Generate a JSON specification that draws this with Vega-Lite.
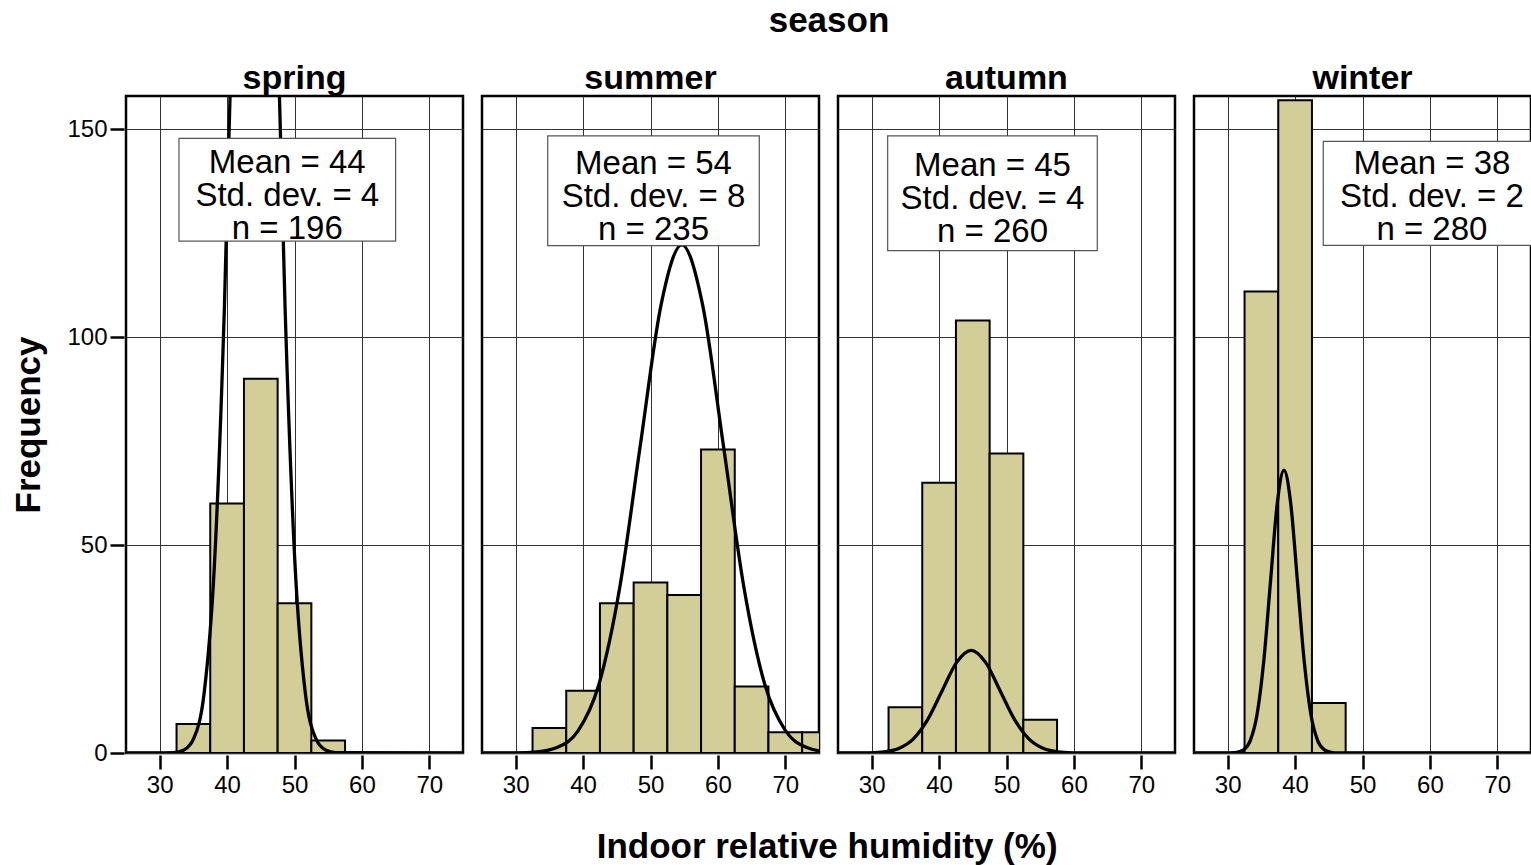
{
  "$schema": "https://vega.github.io/schema/vega-lite/v6.json",
  "padding": {"left": 11, "top": 4, "right": 0, "bottom": 0},
  "background": "white",
  "title": {"text": "Indoor relative humidity (%)", "orient": "bottom", "anchor": "middle", "fontSize": 35, "fontWeight": "bold", "font": "Liberation Sans", "color": "black", "offset": 33, "dx": 55},
  "data": {"values": [
    {"season": "spring", "kind": "bar", "lo": 32.5, "hi": 37.5, "count": 7},
    {"season": "spring", "kind": "bar", "lo": 37.5, "hi": 42.5, "count": 60},
    {"season": "spring", "kind": "bar", "lo": 42.5, "hi": 47.5, "count": 90},
    {"season": "spring", "kind": "bar", "lo": 47.5, "hi": 52.5, "count": 36},
    {"season": "spring", "kind": "bar", "lo": 52.5, "hi": 57.5, "count": 3},
    {"season": "summer", "kind": "bar", "lo": 32.5, "hi": 37.5, "count": 6},
    {"season": "summer", "kind": "bar", "lo": 37.5, "hi": 42.5, "count": 15},
    {"season": "summer", "kind": "bar", "lo": 42.5, "hi": 47.5, "count": 36},
    {"season": "summer", "kind": "bar", "lo": 47.5, "hi": 52.5, "count": 41},
    {"season": "summer", "kind": "bar", "lo": 52.5, "hi": 57.5, "count": 38},
    {"season": "summer", "kind": "bar", "lo": 57.5, "hi": 62.5, "count": 73},
    {"season": "summer", "kind": "bar", "lo": 62.5, "hi": 67.5, "count": 16},
    {"season": "summer", "kind": "bar", "lo": 67.5, "hi": 72.5, "count": 5},
    {"season": "summer", "kind": "bar", "lo": 72.5, "hi": 77.5, "count": 5},
    {"season": "autumn", "kind": "bar", "lo": 32.5, "hi": 37.5, "count": 11},
    {"season": "autumn", "kind": "bar", "lo": 37.5, "hi": 42.5, "count": 65},
    {"season": "autumn", "kind": "bar", "lo": 42.5, "hi": 47.5, "count": 104},
    {"season": "autumn", "kind": "bar", "lo": 47.5, "hi": 52.5, "count": 72},
    {"season": "autumn", "kind": "bar", "lo": 52.5, "hi": 57.5, "count": 8},
    {"season": "winter", "kind": "bar", "lo": 32.5, "hi": 37.5, "count": 111},
    {"season": "winter", "kind": "bar", "lo": 37.5, "hi": 42.5, "count": 157},
    {"season": "winter", "kind": "bar", "lo": 42.5, "hi": 47.5, "count": 12},

    {"season": "spring", "kind": "curve", "h": 25, "f": 0},
    {"season": "spring", "kind": "curve", "h": 32.1, "f": 0.11},
    {"season": "spring", "kind": "curve", "h": 33.6, "f": 0.72},
    {"season": "spring", "kind": "curve", "h": 35.1, "f": 3.67},
    {"season": "spring", "kind": "curve", "h": 36.6, "f": 14.5},
    {"season": "spring", "kind": "curve", "h": 38.1, "f": 44.65},
    {"season": "spring", "kind": "curve", "h": 39.6, "f": 107.2},
    {"season": "spring", "kind": "curve", "h": 41.1, "f": 200.1},
    {"season": "spring", "kind": "curve", "h": 42.6, "f": 291.2},
    {"season": "spring", "kind": "curve", "h": 44.1, "f": 330},
    {"season": "spring", "kind": "curve", "h": 45.6, "f": 291.2},
    {"season": "spring", "kind": "curve", "h": 47.1, "f": 200.1},
    {"season": "spring", "kind": "curve", "h": 48.6, "f": 107.2},
    {"season": "spring", "kind": "curve", "h": 50.1, "f": 44.65},
    {"season": "spring", "kind": "curve", "h": 51.6, "f": 14.5},
    {"season": "spring", "kind": "curve", "h": 53.1, "f": 3.67},
    {"season": "spring", "kind": "curve", "h": 54.6, "f": 0.72},
    {"season": "spring", "kind": "curve", "h": 56.1, "f": 0.11},
    {"season": "spring", "kind": "curve", "h": 75, "f": 0},

    {"season": "summer", "kind": "curve", "h": 25, "f": 0},
    {"season": "summer", "kind": "curve", "h": 30.05, "f": 0.041},
    {"season": "summer", "kind": "curve", "h": 33.125, "f": 0.267},
    {"season": "summer", "kind": "curve", "h": 36.2, "f": 1.358},
    {"season": "summer", "kind": "curve", "h": 39.275, "f": 5.37},
    {"season": "summer", "kind": "curve", "h": 42.35, "f": 16.53},
    {"season": "summer", "kind": "curve", "h": 45.425, "f": 39.68},
    {"season": "summer", "kind": "curve", "h": 48.5, "f": 74.11},
    {"season": "summer", "kind": "curve", "h": 51.575, "f": 107.84},
    {"season": "summer", "kind": "curve", "h": 54.65, "f": 122.2},
    {"season": "summer", "kind": "curve", "h": 57.725, "f": 107.84},
    {"season": "summer", "kind": "curve", "h": 60.8, "f": 74.11},
    {"season": "summer", "kind": "curve", "h": 63.875, "f": 39.68},
    {"season": "summer", "kind": "curve", "h": 66.95, "f": 16.53},
    {"season": "summer", "kind": "curve", "h": 70.025, "f": 5.37},
    {"season": "summer", "kind": "curve", "h": 73.1, "f": 1.358},
    {"season": "summer", "kind": "curve", "h": 76.175, "f": 0.267},
    {"season": "summer", "kind": "curve", "h": 79.25, "f": 0.041},

    {"season": "autumn", "kind": "curve", "h": 25, "f": 0},
    {"season": "autumn", "kind": "curve", "h": 27.55, "f": 0.008},
    {"season": "autumn", "kind": "curve", "h": 29.7, "f": 0.054},
    {"season": "autumn", "kind": "curve", "h": 31.85, "f": 0.274},
    {"season": "autumn", "kind": "curve", "h": 34.0, "f": 1.085},
    {"season": "autumn", "kind": "curve", "h": 36.15, "f": 3.34},
    {"season": "autumn", "kind": "curve", "h": 38.3, "f": 8.02},
    {"season": "autumn", "kind": "curve", "h": 40.45, "f": 14.98},
    {"season": "autumn", "kind": "curve", "h": 42.6, "f": 21.8},
    {"season": "autumn", "kind": "curve", "h": 44.75, "f": 24.7},
    {"season": "autumn", "kind": "curve", "h": 46.9, "f": 21.8},
    {"season": "autumn", "kind": "curve", "h": 49.05, "f": 14.98},
    {"season": "autumn", "kind": "curve", "h": 51.2, "f": 8.02},
    {"season": "autumn", "kind": "curve", "h": 53.35, "f": 3.34},
    {"season": "autumn", "kind": "curve", "h": 55.5, "f": 1.085},
    {"season": "autumn", "kind": "curve", "h": 57.65, "f": 0.274},
    {"season": "autumn", "kind": "curve", "h": 59.8, "f": 0.054},
    {"season": "autumn", "kind": "curve", "h": 61.95, "f": 0.008},
    {"season": "autumn", "kind": "curve", "h": 75, "f": 0},

    {"season": "winter", "kind": "curve", "h": 25, "f": 0},
    {"season": "winter", "kind": "curve", "h": 30.35, "f": 0.023},
    {"season": "winter", "kind": "curve", "h": 31.35, "f": 0.149},
    {"season": "winter", "kind": "curve", "h": 32.35, "f": 0.755},
    {"season": "winter", "kind": "curve", "h": 33.35, "f": 2.99},
    {"season": "winter", "kind": "curve", "h": 34.35, "f": 9.2},
    {"season": "winter", "kind": "curve", "h": 35.35, "f": 22.08},
    {"season": "winter", "kind": "curve", "h": 36.35, "f": 41.24},
    {"season": "winter", "kind": "curve", "h": 37.35, "f": 60.01},
    {"season": "winter", "kind": "curve", "h": 38.35, "f": 68},
    {"season": "winter", "kind": "curve", "h": 39.35, "f": 60.01},
    {"season": "winter", "kind": "curve", "h": 40.35, "f": 41.24},
    {"season": "winter", "kind": "curve", "h": 41.35, "f": 22.08},
    {"season": "winter", "kind": "curve", "h": 42.35, "f": 9.2},
    {"season": "winter", "kind": "curve", "h": 43.35, "f": 2.99},
    {"season": "winter", "kind": "curve", "h": 44.35, "f": 0.755},
    {"season": "winter", "kind": "curve", "h": 45.35, "f": 0.149},
    {"season": "winter", "kind": "curve", "h": 46.35, "f": 0.023},
    {"season": "winter", "kind": "curve", "h": 75, "f": 0},

    {"season": "spring", "kind": "box", "x1": 32.86, "x2": 65.0, "y1": 123.1, "y2": 147.8, "xm": 48.93, "ty": 139.6, "label": "Mean = 44\nStd. dev. = 4\nn = 196"},
    {"season": "summer", "kind": "box", "x1": 34.75, "x2": 66.14, "y1": 122.0, "y2": 148.4, "xm": 50.45, "ty": 139.2, "label": "Mean = 54\nStd. dev. = 8\nn = 235"},
    {"season": "autumn", "kind": "box", "x1": 32.37, "x2": 63.47, "y1": 120.8, "y2": 148.4, "xm": 47.92, "ty": 138.8, "label": "Mean = 45\nStd. dev. = 4\nn = 260"},
    {"season": "winter", "kind": "box", "x1": 44.18, "x2": 80, "y1": 122.1, "y2": 147.1, "xm": 60.3, "ty": 139.2, "label": "Mean = 38\nStd. dev. = 2\nn = 280"}
  ]},
  "facet": {
    "column": {
      "field": "season",
      "type": "nominal",
      "title": "season",
      "sort": ["spring", "summer", "autumn", "winter"],
      "header": {
        "titleFontSize": 35, "titleFontWeight": "bold", "titleFont": "Liberation Sans", "titleColor": "black", "titlePadding": 13,
        "labelFontSize": 34, "labelFontWeight": "bold", "labelFont": "Liberation Sans", "labelColor": "black", "labelPadding": -2
      }
    }
  },
  "spacing": 15,
  "spec": {
    "width": 337,
    "height": 657,
    "layer": [
      {
        "transform": [{"filter": "datum.kind === 'bar'"}],
        "mark": {"type": "rect", "fill": "#d3ce98", "stroke": "black", "strokeWidth": 2, "clip": true},
        "encoding": {
          "x": {"field": "lo", "type": "quantitative", "title": null,
                "scale": {"domain": [25, 75], "nice": false, "zero": false},
                "axis": {"values": [30, 40, 50, 60, 70], "labelPadding": 4}},
          "x2": {"field": "hi"},
          "y": {"field": "count", "type": "quantitative", "title": "Frequency",
                "scale": {"domain": [0, 158], "nice": false},
                "axis": {"values": [0, 50, 100, 150], "labelPadding": 3, "titlePadding": 20}}
        }
      },
      {
        "transform": [{"filter": "datum.kind === 'curve'"}],
        "mark": {"type": "line", "color": "black", "strokeWidth": 3.3, "interpolate": "monotone", "clip": true},
        "encoding": {
          "x": {"field": "h", "type": "quantitative", "title": null},
          "y": {"field": "f", "type": "quantitative", "title": "Frequency"}
        }
      },
      {
        "transform": [{"filter": "datum.kind === 'box'"}],
        "mark": {"type": "rect", "fill": "white", "stroke": "#555", "strokeWidth": 1.2, "clip": true},
        "encoding": {
          "x": {"field": "x1", "type": "quantitative", "title": null},
          "x2": {"field": "x2"},
          "y": {"field": "y1", "type": "quantitative", "title": "Frequency"},
          "y2": {"field": "y2"}
        }
      },
      {
        "transform": [{"filter": "datum.kind === 'box'"}],
        "mark": {"type": "text", "font": "Liberation Sans", "fontSize": 33, "color": "black", "align": "center", "baseline": "alphabetic", "lineBreak": "\n", "lineHeight": 33, "clip": true},
        "encoding": {
          "x": {"field": "xm", "type": "quantitative", "title": null},
          "y": {"field": "ty", "type": "quantitative", "title": "Frequency"},
          "text": {"field": "label"}
        }
      }
    ]
  },
  "config": {
    "font": "Liberation Sans",
    "view": {"stroke": "black", "strokeWidth": 2.5},
    "axis": {
      "grid": true, "gridColor": "#333", "gridWidth": 1, "domain": false,
      "ticks": true, "tickColor": "black", "tickWidth": 2.5, "tickSize": 14,
      "labelFontSize": 24, "labelColor": "black", "labelFont": "Liberation Sans",
      "titleFont": "Liberation Sans", "titleFontSize": 35, "titleFontWeight": "bold", "titleColor": "black"
    }
  }
}
